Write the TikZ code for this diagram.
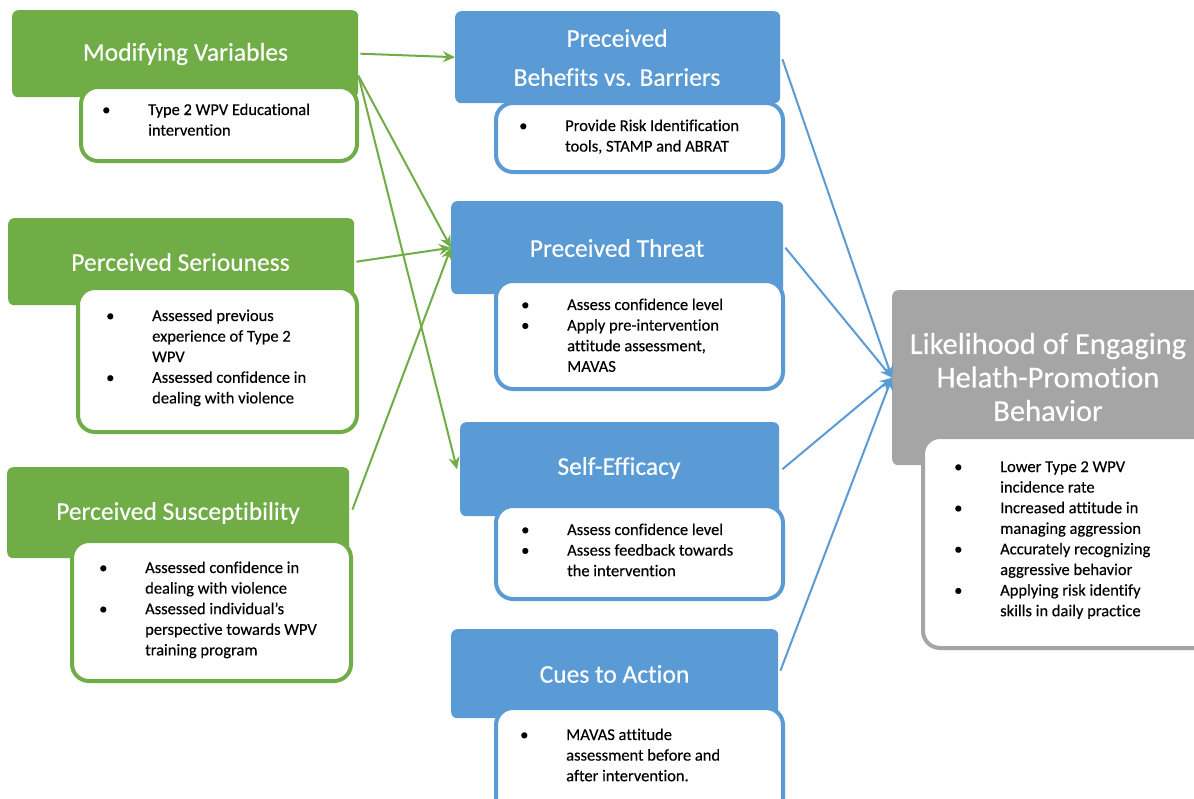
\documentclass[tikz,border=0pt]{standalone}
\usepackage{fontspec}
\setmainfont[Ligatures=NoCommon, FakeBold=0.3]{Carlito}
\usetikzlibrary{arrows.meta,calc}
\definecolor{hgreen}{HTML}{70AD47}
\definecolor{hblue}{HTML}{5B9BD5}
\definecolor{hgray}{HTML}{A5A5A5}

% bullet list helpers
\newcommand\bl{\makebox[47pt][l]{\hspace*{1pt}\textbullet}}
\newcommand\ind{\hspace*{47pt}}
\newcommand\blist[1]{{\fontsize{16.5}{20.6}\selectfont\begin{tabular}[t]{@{}l@{}}#1\end{tabular}}}

\begin{document}
\begin{tikzpicture}[x=1pt, y=-1pt,
  hdr/.style={rectangle, rounded corners=6pt, draw=none, anchor=north west, inner sep=0pt},
  body/.style={rectangle, rounded corners=17pt, fill=white, line width=4pt, anchor=north west, inner sep=0pt},
  ttl/.style={text=white, align=center, inner sep=0pt, font=\fontsize{25.5}{30}\selectfont},
  lst/.style={anchor=base west, inner sep=0pt, text=black},
  garrow/.style={draw=hgreen, line width=2pt, -{Stealth[length=12pt,width=11pt]}},
  barrow/.style={draw=hblue, line width=2pt, -{Stealth[length=12pt,width=11pt]}}]
\useasboundingbox (0,0) rectangle (1194,798);
\fill[white] (0,0) rectangle (1194,798);

% left column: modifying factors
\node[hdr, fill=hgreen, minimum width=346, minimum height=87] (mvh) at (12,10) {};
\node[body, draw=hgreen, minimum width=276, minimum height=74] (mvb) at (79,85) {};
\node[ttl] (mvt) at (185.5,54) {Modifying Variables};
\node[lst] (mvl) at (101,115) {\blist{\bl Type 2 WPV Educational\\ \ind intervention}};

\node[hdr, fill=hgreen, minimum width=346, minimum height=87] (psh) at (8,218) {};
\node[body, draw=hgreen, minimum width=279, minimum height=144] (psb) at (76,286) {};
\node[ttl] (pst) at (180.5,262) {Perceived Seriouness};
\node[lst] (psl) at (105,321) {\blist{\bl Assessed previous\\ \ind experience of Type 2\\ \ind WPV\\ \bl Assessed confidence in\\ \ind dealing with violence}};

\node[hdr, fill=hgreen, minimum width=342, minimum height=91] (psuh) at (7,467) {};
\node[body, draw=hgreen, minimum width=279, minimum height=140] (psub) at (70,539) {};
\node[ttl] (psut) at (178,513) {Perceived Susceptibility};
\node[lst] (psul) at (98,573) {\blist{\bl Assessed confidence in\\ \ind dealing with violence\\ \bl Assessed individual’s\\ \ind perspective towards WPV\\ \ind training program}};

% middle column: perceptions
\node[hdr, fill=hblue, minimum width=325, minimum height=92] (pbh) at (455,11) {};
\node[body, draw=hblue, minimum width=287, minimum height=69] (pbb) at (494,101) {};
\node[ttl, font=\fontsize{25.5}{39}\selectfont] (pbt) at (617,57.5) {Preceived\\Behefits vs. Barriers};
\node[lst] (pbl) at (518,131) {\blist{\bl Provide Risk Identification\\ \ind tools, STAMP and ABRAT}};

\node[hdr, fill=hblue, minimum width=332, minimum height=93] (pth) at (451,201) {};
\node[body, draw=hblue, minimum width=287, minimum height=108] (ptb) at (494,279) {};
\node[ttl] (ptt) at (617,248) {Preceived Threat};
\node[lst] (ptl) at (520,310) {\blist{\bl Assess confidence level\\ \bl Apply pre-intervention\\ \ind attitude assessment,\\ \ind MAVAS}};

\node[hdr, fill=hblue, minimum width=319, minimum height=94] (seh) at (460,422) {};
\node[body, draw=hblue, minimum width=287, minimum height=93] (seb) at (494,504) {};
\node[ttl] (set) at (619,468) {Self-Efficacy};
\node[lst] (sel) at (520,535) {\blist{\bl Assess confidence level\\ \bl Assess feedback towards\\ \ind the intervention}};

\node[hdr, fill=hblue, minimum width=327, minimum height=89] (cah) at (451,629) {};
\node[body, draw=hblue, minimum width=287, minimum height=110] (cab) at (494,706) {};
\node[ttl] (cat) at (614.5,674) {Cues to Action};
\node[lst] (cal) at (519,740) {\blist{\bl MAVAS attitude\\ \ind assessment before and\\ \ind after intervention.}};

% right: outcome
\node[hdr, fill=hgray, minimum width=312, minimum height=175] (grh) at (892,290) {};
\node[body, draw=hgray, minimum width=300, minimum height=211] (grb) at (921,435) {};
\node[ttl, font=\fontsize{30.5}{33.5}\selectfont] (grt) at (1048,377) {Likelihood of Engaging\\Helath-Promotion\\Behavior};
\node[lst] (grl) at (953,472) {\blist{\bl Lower Type 2 WPV\\ \ind incidence rate\\ \bl Increased attitude in\\ \ind managing aggression\\ \bl Accurately recognizing\\ \ind aggressive behavior\\ \bl Applying risk identify\\ \ind skills in daily practice}};

% connectors
\draw[garrow] ($(mvh.east)+(2,0)$) -- (pbh.west);
\draw[garrow] ($(mvh.east)+(0,22)$) -- (pth.west);
\draw[garrow] ($(mvh.east)+(0,22)$) -- ($(seh.west)+(-3,0)$);
\draw[garrow] ($(psh.east)+(2,0)$) -- (pth.west);
\draw[garrow] ($(psuh.east)+(3,-3)$) -- (pth.west);

\draw[barrow] ($(pbh.east)+(2,2)$) -- (grh.west);
\draw[barrow] ($(pth.east)+(2,0)$) -- (grh.west);
\draw[barrow] ($(seh.east)+(3,0)$) -- (grh.west);
\draw[barrow] ($(cah.east)+(2,-3)$) -- (grh.west);
\end{tikzpicture}
\end{document}
